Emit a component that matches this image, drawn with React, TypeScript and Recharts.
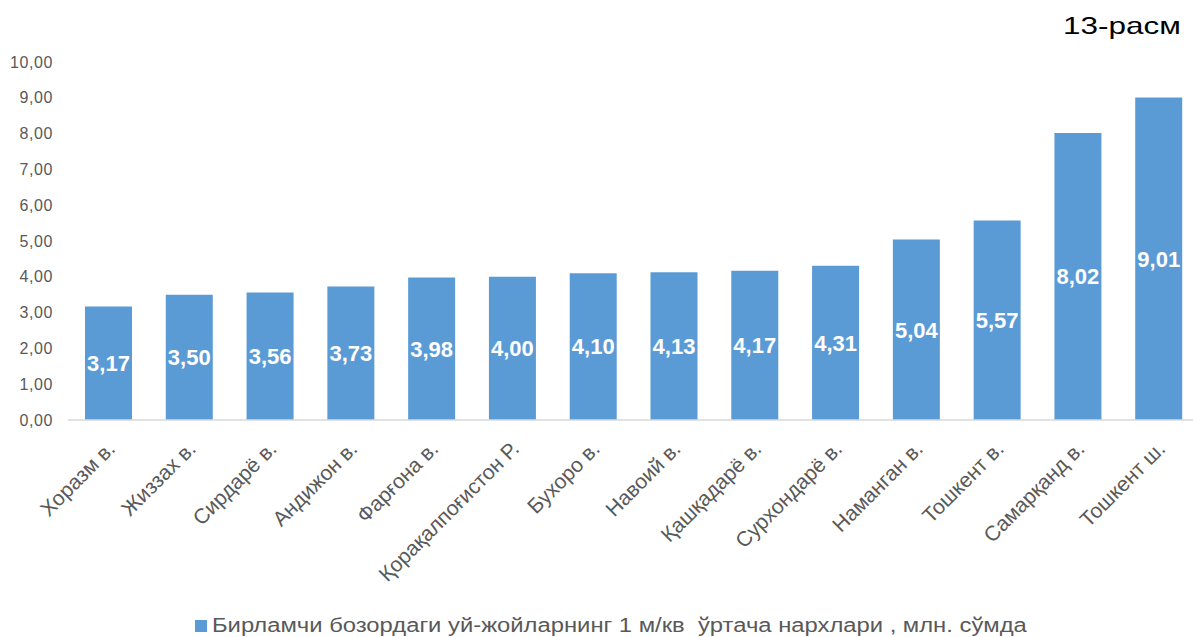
import React from 'react';
import { BarChart, Bar, XAxis, YAxis, LabelList, Legend } from 'recharts';

const categories = [
  'Хоразм в.', 'Жиззах в.', 'Сирдарё в.', 'Андижон в.', 'Фарғона в.', 'Қорақалпоғистон Р.',
  'Бухоро в.', 'Навоий в.', 'Қашқадарё в.', 'Сурхондарё в.', 'Наманган в.', 'Тошкент в.',
  'Самарқанд в.', 'Тошкент ш.',
];
const values = [3.17, 3.5, 3.56, 3.73, 3.98, 4.0, 4.1, 4.13, 4.17, 4.31, 5.04, 5.57, 8.02, 9.01];
const yTicks = [0, 1, 2, 3, 4, 5, 6, 7, 8, 9, 10];
const seriesName = 'Бирламчи бозордаги уй-жойларнинг 1 м/кв  ўртача нархлари , млн. сўмда';
const title = '13-расм';

const data = categories.map((name, i) => ({ name, value: values[i] }));

const fmt = (v: number) => v.toFixed(2).replace('.', ',');
const FONT = '"Liberation Sans", Arial, sans-serif';
const BLUE = '#5B9BD5';
const GRAY = '#595959';

const XTick = (props: any) => {
  const { x, y, payload } = props;
  return (
    <text
      x={0}
      y={0}
      transform={`translate(${x + 8},${y + 22}) rotate(-45)`}
      textAnchor="end"
      fill={GRAY}
      fontSize={21}
      fontFamily={FONT}
    >
      {payload.value}
    </text>
  );
};

const LegendContent = () => (
  <div style={{ height: 37, boxSizing: 'border-box', paddingTop: 14, paddingLeft: 195, display: 'flex', alignItems: 'center', fontFamily: FONT, fontSize: 20, color: GRAY, whiteSpace: 'pre' }}>
    <span style={{ display: 'inline-block', width: 12, height: 12, background: BLUE, marginRight: 5, flex: 'none' }} />
    <span style={{ display: 'inline-block', transform: 'scaleX(1.19)', transformOrigin: 'left center' }}>{seriesName}</span>
  </div>
);

export default function App() {
  return (
    <div style={{ position: 'absolute', left: 0, top: 0, width: 1193, height: 637, overflow: 'hidden', background: '#fff' }}>
      <div style={{ position: 'absolute', left: 1063, top: 12, fontFamily: FONT, fontSize: 24, color: '#000', transform: 'scaleX(1.31)', transformOrigin: 'left top', whiteSpace: 'nowrap' }}>{title}</div>
      <BarChart width={1199} height={637} data={data} margin={{ top: 62, right: 0, bottom: 0, left: 0 }}>
        <XAxis
          dataKey="name"
          interval={0}
          tick={<XTick />}
          tickLine={false}
          axisLine={{ stroke: '#D9D9D9', strokeWidth: 1.5 }}
          height={180}
        />
        <YAxis
          width={68}
          domain={[0, 10]}
          ticks={yTicks}
          tickFormatter={fmt}
          axisLine={false}
          tickLine={false}
          tickSize={0}
          tickMargin={15}
          tick={{ fill: GRAY, fontSize: 16, fontFamily: FONT, letterSpacing: 0.6 }}
        />
        <Legend verticalAlign="bottom" height={37} content={<LegendContent />} />
        <Bar dataKey="value" name={seriesName} fill={BLUE} barSize={47} isAnimationActive={false}>
          <LabelList dataKey="value" position="center" formatter={(v: any) => fmt(Number(v))} fill="#fff" fontWeight="bold" fontSize={22} fontFamily={FONT} />
        </Bar>
      </BarChart>
    </div>
  );
}
